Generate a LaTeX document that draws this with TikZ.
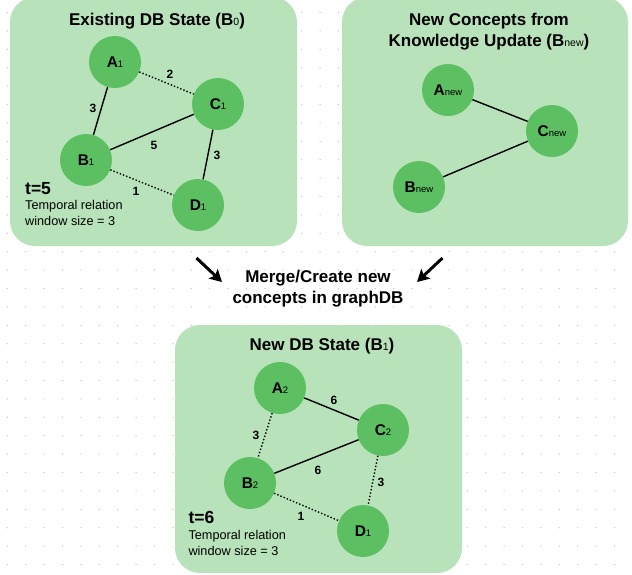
\documentclass[tikz,border=0pt]{standalone}
\usepackage{fontspec}
\setmainfont{Liberation Sans}
\usetikzlibrary{arrows.meta}
\definecolor{boxg}{HTML}{B0E0B3}
\definecolor{nodeg}{HTML}{5CBF62}
\definecolor{dotg}{HTML}{BDBDBD}
\newcommand\sbx[1]{{\fontsize{9.5}{9.5}\selectfont\mdseries #1}}
\newcommand\sbt[1]{{\fontsize{10.5}{10.5}\selectfont\mdseries #1}}
\begin{document}
\begin{tikzpicture}[x=1pt,y=-1pt,
  panel/.style={fill=boxg, fill opacity=0.9, rounded corners=25pt},
  cnode/.style={circle, fill=nodeg, minimum size=52pt, inner sep=0pt, font=\fontsize{15.5}{15.5}\selectfont\bfseries},
  solidedge/.style={line width=1.4pt},
  dotedge/.style={line width=1.4pt, dash pattern=on 1.4pt off 2pt},
  wlabel/.style={font=\fontsize{12}{12}\selectfont\bfseries},
  title/.style={font=\fontsize{17}{21}\selectfont\bfseries, align=center, anchor=base, inner sep=0pt},
  tlabel/.style={font=\fontsize{17.5}{17.5}\selectfont\bfseries, anchor=base west, inner sep=0pt},
  note/.style={font=\fontsize{12.7}{15.7}\selectfont, align=left, anchor=base west, inner sep=0pt},
  bigarrow/.style={line width=3pt, -{Stealth[length=12pt,width=13pt,inset=2.5pt]}}
]
\useasboundingbox (0,0) rectangle (632,574);
% dotted grid
\foreach \i in {0,...,33} {
  \foreach \j in {0,...,30} {
    \fill[dotg] (7.3+18.4*\i, 12.5+18.4*\j) circle (0.65);
  }
}
% panels
\fill[panel] (10,-3) rectangle (297,246);
\fill[panel] (342,-3) rectangle (628,246);
\fill[panel] (175,325) rectangle (462,573);

% ---- panel 1: existing DB state
\node[title] (t1) at (157,25) {Existing DB State (B\sbt{0})};
\node[cnode] (A1) at (115,62) {A\sbx{1}};
\node[cnode] (C1) at (218,104) {C\sbx{1}};
\node[cnode] (B1) at (86,160) {B\sbx{1}};
\node[cnode] (D1) at (198,205) {D\sbx{1}};
\draw[solidedge] (A1) -- (B1);
\draw[dotedge] (A1) -- (C1);
\draw[solidedge] (B1) -- (C1);
\draw[solidedge] (C1) -- (D1);
\draw[dotedge] (B1) -- (D1);
\node[wlabel] (l1) at (93,108) {3};
\node[wlabel] (l2) at (170,74) {2};
\node[wlabel] (l3) at (154,145) {5};
\node[wlabel] (l4) at (217,155) {3};
\node[wlabel] (l5) at (136,191) {1};
\node[tlabel] (tt1) at (25,194) {t=5};
\node[note] (n1) at (25,225) {Temporal relation\\window size = 3};

% ---- panel 2: new concepts
\node[title] (t2) at (489,46) {New Concepts from\\Knowledge Update (B\sbt{new})};
\node[cnode] (An) at (448,90) {A\sbx{new}};
\node[cnode] (Cn) at (552,131) {C\sbx{new}};
\node[cnode] (Bn) at (419,187) {B\sbx{new}};
\draw[solidedge] (An) -- (Cn);
\draw[solidedge] (Bn) -- (Cn);

% ---- merge
\node[title] (mt) at (318,303.3) {Merge/Create new\\concepts in graphDB};
\coordinate (la) at (196.5,258);
\coordinate (lb) at (222,282);
\coordinate (ra) at (442.5,258);
\coordinate (rb) at (417,282);
\draw[bigarrow] (la) -- (lb);
\draw[bigarrow] (ra) -- (rb);

% ---- panel 3: new DB state
\node[title] (t3) at (322,350) {New DB State (B\sbt{1})};
\node[cnode] (A2) at (280,388) {A\sbx{2}};
\node[cnode] (C2) at (383,430) {C\sbx{2}};
\node[cnode] (B2) at (250,483) {B\sbx{2}};
\node[cnode] (D1b) at (363,531) {D\sbx{1}};
\draw[solidedge] (A2) -- (C2);
\draw[dotedge] (A2) -- (B2);
\draw[solidedge] (B2) -- (C2);
\draw[dotedge] (C2) -- (D1b);
\draw[dotedge] (B2) -- (D1b);
\node[wlabel] (m1) at (334,400) {6};
\node[wlabel] (m2) at (256,435) {3};
\node[wlabel] (m3) at (318,470) {6};
\node[wlabel] (m4) at (381,482) {3};
\node[wlabel] (m5) at (301,516) {1};
\node[tlabel] (tt2) at (188.3,523.3) {t=6};
\node[note] (n2) at (188.3,555) {Temporal relation\\window size = 3};
\end{tikzpicture}
\end{document}
